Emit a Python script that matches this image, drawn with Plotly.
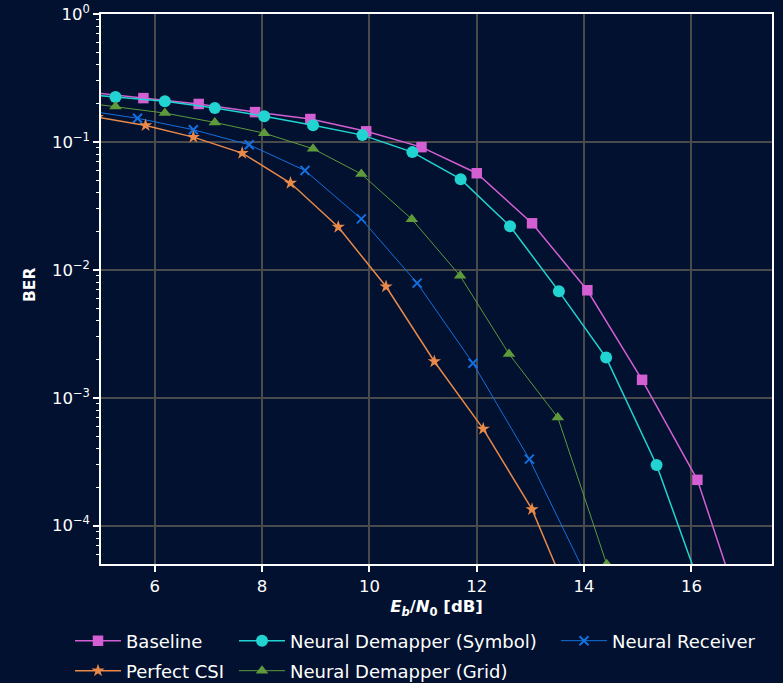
import plotly.graph_objects as go

# ---------------- data ----------------
ebno_baseline = [4.76, 5.79, 6.82, 7.87, 8.90, 9.94, 10.97, 12.00, 13.03, 14.06, 15.08, 16.11, 17.14]
ber_baseline = [0.245, 0.220, 0.198, 0.171, 0.151, 0.121, 0.091, 0.0569, 0.0231, 0.00692, 0.00138, 2.28e-4, 1.13e-5]

ebno_perfect = [4.93, 5.83, 6.72, 7.63, 8.53, 9.42, 10.31, 11.21, 12.12, 13.03, 13.93]
ber_perfect = [0.156, 0.1345, 0.109, 0.0818, 0.0477, 0.0216, 0.0074, 0.00192, 5.71e-4, 1.34e-4, 1.69e-5]

ebno_symbol = [4.35, 5.27, 6.19, 7.12, 8.04, 8.95, 9.87, 10.80, 11.70, 12.62, 13.53, 14.41, 15.35, 16.27]
ber_symbol = [0.242, 0.224, 0.208, 0.184, 0.159, 0.135, 0.113, 0.0832, 0.0511, 0.0219, 0.00679, 0.00206, 2.98e-4, 2.5e-5]

ebno_grid = [4.35, 5.27, 6.19, 7.12, 8.04, 8.95, 9.85, 10.79, 11.69, 12.60, 13.51, 14.42]
ber_grid = [0.211, 0.189, 0.168, 0.142, 0.117, 0.0884, 0.0561, 0.0249, 0.00897, 0.00220, 7.0e-4, 5.0e-5]

ebno_receiver = [4.64, 5.68, 6.72, 7.76, 8.80, 9.85, 10.89, 11.93, 12.98, 14.02]
ber_receiver = [0.178, 0.153, 0.1245, 0.095, 0.0598, 0.0250, 0.00787, 0.00186, 3.31e-4, 4.2e-5]

x_ticks = [6, 8, 10, 12, 14, 16]
y_ticks = [1, 0.1, 0.01, 0.001, 0.0001]
y_ticktext = ["10<sup>0</sup>", "10<sup>\u22121</sup>", "10<sup>\u22122</sup>",
              "10<sup>\u22123</sup>", "10<sup>\u22124</sup>"]

# ---------------- styling ----------------
BG = "#01112f"
FONT = "DejaVu Sans"
W, H = 783, 683

fig = go.Figure()

series = [
    # name, x, y, colour, marker symbol, size, line width, legend id
    ("Baseline", ebno_baseline, ber_baseline, "#d35fd3", "square", 10.5, 1.5, "legend"),
    ("Neural Demapper (Symbol)", ebno_symbol, ber_symbol, "#22d4d1", "circle", 12, 1.5, "legend2"),
    ("Neural Receiver", ebno_receiver, ber_receiver, "#1470e0", "x-thin", 9, 1.0, "legend3"),
    ("Perfect CSI", ebno_perfect, ber_perfect, "#e8894a", "star", 10, 1.5, "legend4"),
    ("Neural Demapper (Grid)", ebno_grid, ber_grid, "#5e9a3c", "triangle-up", 11, 1.0, "legend5"),
]

for name, xs, ys, col, sym, size, lw, leg in series:
    mk = dict(symbol=sym, size=size, color=col)
    if sym == "x-thin":
        mk["line"] = dict(color=col, width=2)
    fig.add_trace(go.Scatter(
        x=xs, y=ys, name=name, mode="lines+markers",
        line=dict(color=col, width=lw),
        marker=mk, legend=leg, showlegend=True,
    ))

common_axis = dict(
    showline=True, linecolor="white", linewidth=1.5, mirror=True,
    ticks="outside", tickcolor="white", ticklen=6, tickwidth=1.5,
    showgrid=True, gridcolor="#4a4a4a", gridwidth=1.8,
    zeroline=False,
    tickfont=dict(family=FONT, size=16.5, color="white"),
)

fig.update_xaxes(
    range=[5, 17.5], tickvals=x_ticks,
    title=dict(text="<b><i>E</i><sub><i>b</i></sub>/<i>N</i><sub>0</sub> [dB]</b>",
               font=dict(family=FONT, size=16.5, color="white"), standoff=6),
    **common_axis,
)
fig.update_yaxes(
    type="log", range=[-4.3, 0], tickvals=y_ticks, ticktext=y_ticktext,
    minor=dict(ticks="outside", ticklen=3.5, tickcolor="white", tickwidth=1, dtick="D1", showgrid=False),
    **common_axis,
)

fig.add_annotation(
    text="<b>BER</b>", xref="paper", yref="paper",
    x=(30 - 101) / 671, y=1 - (285 - 14) / 550, textangle=-90,
    showarrow=False, font=dict(family=FONT, size=15.5, color="white"),
    xanchor="center", yanchor="middle",
)

leg_font = dict(family=FONT, size=18, color="white")


def legend_at(px, py):
    return dict(x=px / W, y=1 - py / H, xref="container", yref="container",
                xanchor="left", yanchor="middle", bgcolor="rgba(0,0,0,0)",
                font=leg_font, itemwidth=46, borderwidth=0)


fig.update_layout(
    width=W, height=H,
    showlegend=True,
    margin=dict(l=101, r=11, t=14, b=119, autoexpand=False),
    paper_bgcolor=BG, plot_bgcolor=BG,
    font=dict(family=FONT, color="white"),
    legend=legend_at(70, 641),
    legend2=legend_at(234, 641),
    legend3=legend_at(556, 641),
    legend4=legend_at(70, 671),
    legend5=legend_at(234, 671),
)

fig.write_html(
    "out.html",
    config={"displayModeBar": False},
    post_script="document.body.style.margin='0';document.body.style.background='%s';" % BG,
)
